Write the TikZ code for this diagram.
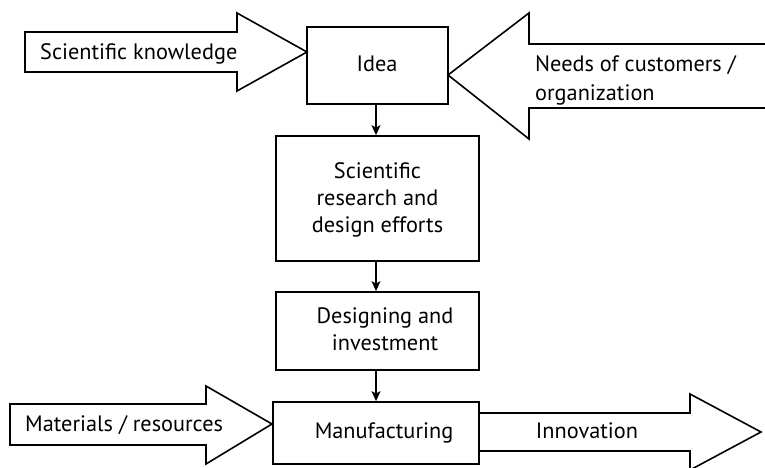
\documentclass[tikz,border=0pt]{standalone}
\usepackage{fontspec}
\setmainfont{PT Sans}
\usetikzlibrary{arrows.meta}
\begin{document}
\begin{tikzpicture}[x=1pt,y=-1pt,
  box/.style={draw, line width=1.8pt, inner sep=0pt},
  bigarrow/.style={draw, line width=1.6pt, fill=white, line join=miter},
  flow/.style={line width=1.1pt, -{Stealth[length=10pt,width=9pt,inset=2.5pt]}},
  txt/.style={font=\fontsize{22.3}{27}\selectfont, inner sep=0pt}]
\useasboundingbox (0,0) rectangle (765,468);
\fill[white] (0,0) rectangle (765,468);
\clip (0,0) rectangle (765,468);

% boxes
\node[box, minimum width=141pt, minimum height=77pt] (idea) at (377.5,65.5) {};
\node[box, minimum width=203pt, minimum height=125pt] (research) at (377.5,198.5) {};
\node[box, minimum width=203pt, minimum height=78pt] (design) at (377.5,331) {};
\node[box, minimum width=206pt, minimum height=62pt] (manuf) at (376,433) {};

% tips of the big arrows
\coordinate (sktip) at (307,52);
\coordinate (ndtip) at (448,75);
\coordinate (mattip) at (272,424);
\coordinate (innstart) at (479,413);

% big arrows
\draw[bigarrow] (25,32) -- (237,32) -- (237,13) -- (sktip) -- (237,91) -- (237,72) -- (25,72) -- cycle;
\draw[bigarrow] (ndtip) -- (529,13) -- (529,44) -- (790,44) -- (790,108) -- (529,108) -- (529,139) -- cycle;
\draw[bigarrow] (10,404) -- (206,404) -- (206,386) -- (mattip) -- (206,464) -- (206,445) -- (10,445) -- cycle;
\draw[bigarrow, fill=none] (innstart) -- (690,413) -- (690,394) -- (761,432) -- (690,470) -- (690,451) -- (479,451);

% flow arrows
\draw[flow] (idea.south -| 376,0) -- (research.north -| 376,0);
\draw[flow] (research.south -| 376,0) -- (design.north -| 376,0);
\draw[flow] (design.south -| 376,0) -- (manuf.north -| 376,0);

% texts
\node[txt, anchor=base west] (sktext) at (40,60) {Scientific knowledge};
\node[txt, anchor=base] (ideatext) at (377,72) {Idea};
\node[txt, anchor=west, align=left, font=\fontsize{22.3}{29}\selectfont] (ndtext) at (535,80) {Needs of customers /\\organization};
\node[txt, align=center] (restext) at (377.5,200) {Scientific\\research and\\design efforts};
\node[txt, align=center] (destext) at (385,329) {Designing and\\investment};
\node[txt, anchor=base] (mantext) at (384,438) {Manufacturing};
\node[txt, anchor=base] (inntext) at (587,438) {Innovation};
\node[txt, anchor=base west] (mattext) at (25,431) {Materials / resources};
\end{tikzpicture}
\end{document}
